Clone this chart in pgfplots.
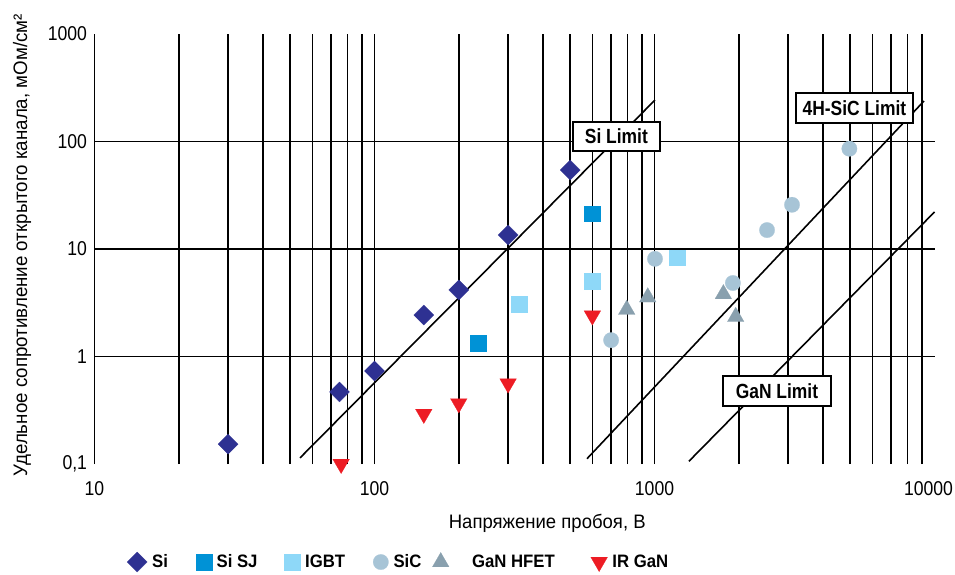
\documentclass[border=0pt]{standalone}
\usepackage{fontspec}
\setmainfont{Liberation Sans}[FakeStretch=0.88]
\newfontfamily\xlabfont{Liberation Sans}[FakeStretch=0.95]
\newfontfamily\ylabfont{Liberation Sans}[FakeStretch=0.96]
\newfontfamily\legfont{Liberation Sans}[FakeStretch=0.93]
\newfontfamily\boxfont{Liberation Sans}[FakeStretch=0.85]
\usepackage{pgfplots}
\pgfplotsset{compat=1.18}
\usetikzlibrary{calc}

\definecolor{sicol}{RGB}{46,49,146}
\definecolor{sisjcol}{RGB}{0,146,214}
\definecolor{igbtcol}{RGB}{142,216,248}
\definecolor{siccol}{RGB}{167,196,214}
\definecolor{hfetcol}{RGB}{137,160,174}
\definecolor{irgancol}{RGB}{237,28,36}

\tikzset{limitbox/.style={draw=black, line width=1.5pt, fill=white,
  font=\boxfont\bfseries\fontsize{20.5}{24}\selectfont, inner xsep=2pt}}

\begin{document}
\begin{tikzpicture}
\begin{axis}[
  name=ax,
  at={(0,0)}, anchor=south west,
  scale only axis,
  width=840pt, height=430pt,
  xmode=log, ymode=log,
  xmin=10, xmax=10000, ymin=0.1, ymax=1000,
  xtick={10,100,1000,10000},
  xticklabels={10,100,1000,\hspace*{-12pt}10000},
  ytick={0.1,1,10,100,1000},
  minor xtick={10,20,30,40,50,60,70,80,90,100,200,300,400,500,600,700,800,900,1000,2000,3000,4000,5000,6000,7000,8000,9000},
  minor ytick={1,10,100},
  xminorgrids=true, yminorgrids=true,
  xmajorgrids=false, ymajorgrids=false,
  minor grid style={black, line width=1.7pt},
  major tick length=0pt, minor tick length=0pt,
  axis line style={draw=none},
  log ticks with fixed point,
  /pgf/number format/use comma,
  /pgf/number format/1000 sep={},
  /pgf/number format/assume math mode=true,
  tick label style={font=\fontsize{20}{24}\selectfont},
  xticklabel style={yshift=-14pt},
  yticklabel style={xshift=-4pt},
  xlabel={Напряжение пробоя, В},
  ylabel={Удельное сопротивление открытого канала, мОм/см²},
  xlabel style={font=\xlabfont\fontsize{19.5}{23}\selectfont,
    at={(axis description cs:0.539,-0.139)}, anchor=center},
  ylabel style={font=\ylabfont\fontsize{19.5}{23}\selectfont,
    at={(axis description cs:-0.0863,0.509)}, anchor=center},
  clip=false,
  legend columns=-1,
  legend style={draw=none, fill=none,
    at={(axis description cs:0.035,-0.228)}, anchor=west,
    font=\legfont\bfseries\fontsize{18}{22}\selectfont,
    /tikz/every odd column/.style={column sep=3pt}},
  legend cell align=left,
  legend image code/.code={\draw[#1] plot coordinates {(0pt,0pt)};},
]

% limit lines
\addplot[black, line width=1.6pt, forget plot] coordinates {(54.2,0.114) (1004,243)};
\addplot[black, line width=1.6pt, forget plot] coordinates {(574,0.112) (9173,238)};
\addplot[black, line width=1.6pt, forget plot] coordinates {(1327,0.106) (10000,22.1)};

\addplot[only marks, color=sicol, mark=square*, mark size=7.1pt,
  mark options={rotate=45, draw=sicol, fill=sicol, line width=0.2pt}] coordinates {
  (30,0.153) (75,0.468) (100,0.733) (150,2.43) (200,4.16) (300,13.5) (500,54.3)
};
\addlegendentry{Si\rule{26pt}{0pt}}

\addplot[only marks, color=sisjcol, mark=square*, mark size=7.8pt,
  mark options={draw=sisjcol, fill=sisjcol, line width=0.2pt}] coordinates {
  (234,1.34) (600,21.3)
};
\addlegendentry{Si SJ\rule{25pt}{0pt}}

\addplot[only marks, color=igbtcol, mark=square*, mark size=7.8pt,
  mark options={draw=igbtcol, fill=igbtcol, line width=0.2pt}] coordinates {
  (328,3.08) (600,5.04) (1202,8.3)
};
\addlegendentry{IGBT\rule{26pt}{0pt}}

\addplot[only marks, color=siccol, mark=*, mark size=7.7pt,
  mark options={draw=siccol, fill=siccol, line width=0.2pt}] coordinates {
  (700,1.42) (1004,8.1) (1905,4.83) (2523,15.0) (3098,25.8) (4966,85.7)
};
\addlegendentry{SiC\rule{9pt}{0pt}}

\addplot[only marks, color=hfetcol, mark=triangle*, mark size=9.6pt,
  mark options={draw=hfetcol, fill=hfetcol, line width=0.2pt}] coordinates {
  (796,2.73) (946,3.56) (1762,3.81) (1950,2.34)
};
\addlegendentry{\rule{18pt}{0pt}GaN HFET\rule{34pt}{0pt}}

\addplot[only marks, color=irgancol, mark=triangle*, mark size=9.6pt,
  mark options={rotate=180, draw=irgancol, fill=irgancol, line width=0.2pt}] coordinates {
  (76,0.1) (150,0.292) (200,0.366) (300,0.56) (600,2.40)
};
\addlegendentry{IR GaN}

% limit labels
\node[limitbox, minimum width=87pt, minimum height=29pt] at (axis cs:731,111) {Si Limit};
\node[limitbox, minimum width=117pt, minimum height=30pt] at (axis cs:5176,205) {4H-SiC Limit};
\node[limitbox, minimum width=108pt, minimum height=30pt] at (axis cs:2738,0.478) {GaN Limit};
\end{axis}
\pgfresetboundingbox
\path[use as bounding box] ($(ax.south west)+(-94.5pt,-110pt)$) rectangle ($(ax.south west)+(860.5pt,464pt)$);
\end{tikzpicture}
\end{document}
